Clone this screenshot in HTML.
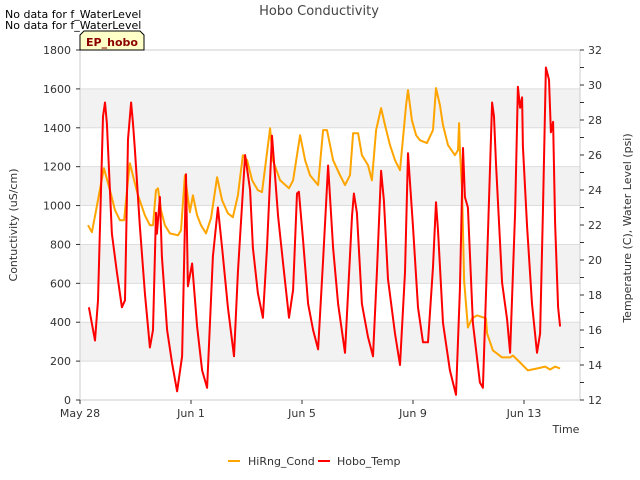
<!DOCTYPE html>
<html><head><meta charset="utf-8"><style>
body{margin:0;background:#fff;}
svg{font-family:"DejaVu Sans","Liberation Sans",sans-serif;display:block}
</style></head><body>
<svg id="chart" width="640" height="480" xmlns="http://www.w3.org/2000/svg">
<rect width="640" height="480" fill="#fff"/>
<text x="319" y="15" text-anchor="middle" font-size="13" fill="#444">Hobo Conductivity</text>
<text x="5" y="18" font-size="11" fill="#000">No data for f_WaterLevel</text>
<text x="5" y="29" font-size="11" fill="#000">No data for f_WaterLevel</text>
<g id="bands"></g>
<g id="grid"></g>
<rect x="80" y="50" width="500" height="350" fill="none" stroke="#ccc"/>
<g id="axes"></g>
<g id="series"></g>
<g>
<path d="M80,50 L80,35 L84,31 L140,31 L144,35 L144,50 Z" fill="#ffffc8" stroke="#000"/>
<text x="112" y="46" text-anchor="middle" font-size="11" font-weight="bold" fill="#8b0000">EP_hobo</text>
</g>
<text transform="translate(17,225) rotate(-90)" text-anchor="middle" font-size="11" fill="#333">Contuctivity (uS/cm)</text>
<text transform="translate(631,228) rotate(-90)" text-anchor="middle" font-size="11" fill="#333">Temperature (C), Water Level (psi)</text>
<text x="566" y="433" text-anchor="middle" font-size="11" fill="#333">Time</text>
<g>
<g><line x1="228" y1="461" x2="240" y2="461" stroke="orange" stroke-width="2"/><text x="248" y="465" font-size="11" fill="#333">HiRng_Cond</text></g>
<g><line x1="318" y1="461" x2="330" y2="461" stroke="red" stroke-width="2"/><text x="337" y="465" font-size="11" fill="#333">Hobo_Temp</text></g>
</g>
</svg>
<script>
const xTickLabels=["May 28","Jun 1","Jun 5","Jun 9","Jun 13"];
const xTickDays=[0,4,8,12,16];
const leftTicks=[0,200,400,600,800,1000,1200,1400,1600,1800];
const rightTicks=[12,14,16,18,20,22,24,26,28,30,32];
const condDays=[0.29,0.43,0.58,0.86,1.08,1.26,1.44,1.59,1.73,1.80,1.95,2.09,2.34,2.52,2.63,2.74,2.81,2.92,3.06,3.24,3.53,3.64,3.78,3.96,4.07,4.22,4.36,4.54,4.72,4.94,5.12,5.33,5.51,5.69,5.87,6.02,6.20,6.41,6.56,6.85,6.95,7.21,7.53,7.68,7.93,8.11,8.29,8.58,8.76,8.90,9.12,9.37,9.55,9.73,9.84,10.02,10.16,10.38,10.52,10.67,10.85,10.99,11.17,11.35,11.53,11.75,11.82,11.96,12.11,12.25,12.50,12.72,12.83,12.97,13.08,13.26,13.51,13.62,13.66,13.69,13.77,13.84,13.98,14.13,14.31,14.63,14.67,14.88,15.21,15.50,15.60,15.86,16.14,16.47,16.76,16.94,17.12,17.30];
const condValues=[899,863,976,1192,1079,976,924,924,1130,1218,1130,1053,950,899,899,1079,1089,976,899,857,847,873,1156,966,1053,950,899,857,935,1146,1027,960,940,1053,1259,1233,1130,1079,1069,1398,1233,1130,1089,1130,1362,1233,1156,1105,1388,1388,1233,1156,1105,1156,1372,1372,1259,1208,1130,1388,1501,1414,1311,1233,1182,1517,1594,1439,1362,1336,1321,1388,1604,1517,1414,1311,1259,1285,1424,1285,1079,615,373,420,435,420,342,255,219,219,229,193,152,162,172,157,172,162];
const tempDays=[0.32,0.54,0.65,0.83,0.90,0.97,1.15,1.33,1.51,1.62,1.73,1.84,1.91,1.98,2.16,2.34,2.52,2.63,2.74,2.77,2.88,2.95,3.14,3.32,3.50,3.68,3.82,3.89,4.04,4.22,4.40,4.58,4.79,4.97,5.12,5.33,5.55,5.69,5.95,6.13,6.23,6.41,6.59,6.74,6.92,7.14,7.32,7.53,7.68,7.82,7.89,8.04,8.22,8.40,8.58,8.76,8.94,9.12,9.30,9.55,9.80,9.87,9.98,10.16,10.38,10.56,10.70,10.85,10.95,11.10,11.35,11.53,11.71,11.82,12.00,12.18,12.36,12.54,12.72,12.83,12.90,13.08,13.33,13.55,13.69,13.80,13.87,13.98,14.16,14.41,14.52,14.67,14.85,14.92,14.99,15.21,15.39,15.50,15.68,15.78,15.86,15.93,15.96,16.11,16.29,16.47,16.58,16.68,16.79,16.90,16.97,17.05,17.12,17.23,17.30];
const tempValues=[17.3,15.4,17.7,28.2,29.0,27.8,21.5,19.3,17.3,17.7,26.9,29.0,27.8,26.3,21.9,18.1,15.0,16.0,22.7,21.5,23.6,20.2,16.0,14.1,12.5,14.5,24.9,18.5,19.8,16.2,13.7,12.7,20.2,23.0,20.7,17.3,14.5,19.3,26.0,24.0,20.7,18.1,16.7,20.7,27.1,22.5,19.8,16.7,18.3,23.8,23.9,21.1,17.5,16.0,14.9,20.0,25.4,20.7,17.5,14.7,22.5,23.8,22.7,17.5,15.6,14.5,19.3,25.1,23.4,18.9,15.8,14.0,19.3,26.1,21.9,17.3,15.3,15.3,19.6,23.3,21.7,16.4,13.7,12.3,18.3,26.4,23.6,23.0,16.4,13.0,12.7,20.0,29.0,28.2,25.5,18.7,16.6,14.7,22.7,29.9,28.7,29.3,26.5,21.9,17.5,14.7,15.8,22.7,31.0,30.3,27.3,27.9,22.1,17.3,16.2];

const NS="http://www.w3.org/2000/svg";
const X0=80,X1=580,Y0=400,Y1=50;
const xScale=d=>X0+d*27.75;
const yLeft=v=>Y0-(v/1800)*(Y0-Y1);
const yRight=v=>Y0-((v-12)/20)*(Y0-Y1);
function mk(tag,attrs,parent,txt){const e=document.createElementNS(NS,tag);for(const k in attrs)e.setAttribute(k,attrs[k]);if(txt!==undefined)e.textContent=txt;parent.appendChild(e);return e;}
const bands=document.getElementById('bands'),grid=document.getElementById('grid'),axes=document.getElementById('axes'),series=document.getElementById('series');
for(let i=0;i<leftTicks.length-1;i++){
  if(i%2===1){const r=mk('rect',{x:X0,y:yLeft(leftTicks[i+1]),width:X1-X0,height:yLeft(leftTicks[i])-yLeft(leftTicks[i+1]),fill:'#f2f2f2'},bands);
  
  }
}
leftTicks.forEach(v=>{
  const y=yLeft(v);
  const l=mk('line',{x1:X0,x2:X1,y1:y,y2:y,stroke:'#ddd'},grid);
  
  
  mk('line',{x1:X0-4,x2:X0,y1:y,y2:y,stroke:'#333'},axes);
  const t=mk('text',{x:X0-9,y:y+4,'text-anchor':'end','font-size':11,fill:'#333'},axes,String(v));
  
  
});
for(let v=12;v<=32;v++){
  const y=yRight(v);
  mk('line',{x1:X1,x2:X1+4,y1:y,y2:y,stroke:'#333'},axes);
}
rightTicks.forEach(v=>{
  const y=yRight(v);
  const t=mk('text',{x:X1+8,y:y+4,'font-size':11,fill:'#333'},axes,String(v));
  
  
});
xTickDays.forEach((d,i)=>{
  const x=xScale(d);
  mk('line',{x1:x,x2:x,y1:Y0,y2:Y0+4,stroke:'#333'},axes);
  const t=mk('text',{x:x,y:Y0+17,'text-anchor':'middle','font-size':11,fill:'#333'},axes,xTickLabels[i]);
  
  
});
function line(days,vals,ys,color,name){
  const p=mk('polyline',{points:days.map((d,i)=>xScale(d).toFixed(1)+','+ys(vals[i]).toFixed(1)).join(' '),fill:'none',stroke:color,'stroke-width':2,'stroke-linejoin':'round'},series);
  
  
}
line(condDays,condValues,yLeft,'orange','hirng-cond-line');
line(tempDays,tempValues,yRight,'red','hobo-temp-line');
</script>
</body></html>
